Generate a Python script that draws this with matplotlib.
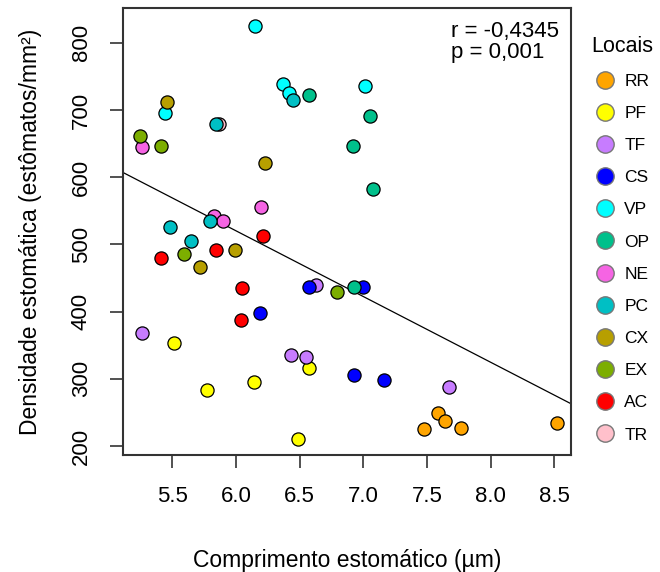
import matplotlib
matplotlib.use("Agg")
import matplotlib.pyplot as plt
from matplotlib.lines import Line2D
import numpy as np

plt.rcParams['font.family'] = ['Liberation Sans', 'DejaVu Sans']

locais = ["RR", "PF", "TF", "CS", "VP", "OP", "NE", "PC", "CX", "EX", "AC", "TR"]
cores = ["#FFA500", "#FFFF00", "#C77CFF", "#0000FF", "#00FFFF", "#00C08B",
         "#F564E3", "#00BFC4", "#B79F00", "#7CAE00", "#FF0000", "#FFC0CB"]

# comprimento (um) e densidade (estomatos/mm2) por local
comp = {
    "RR": [7.59, 7.64, 7.48, 7.77, 8.52],
    "PF": [5.51, 6.14, 5.77, 6.57, 6.49],
    "TF": [5.26, 6.43, 6.55, 6.63, 7.67],
    "CS": [6.57, 7.00, 6.19, 6.93, 7.16],
    "VP": [6.15, 6.37, 6.42, 7.01, 5.44],
    "OP": [6.57, 7.05, 6.92, 7.08, 6.93],
    "NE": [5.26, 6.20, 5.83, 5.90],
    "PC": [6.45, 5.84, 5.80, 5.48, 5.65],
    "CX": [5.46, 6.23, 5.99, 5.72],
    "EX": [5.25, 5.41, 5.59, 6.79],
    "AC": [6.21, 5.41, 5.84, 6.05, 6.04],
    "TR": [5.87],
}
dens = {
    "RR": [249, 237, 225, 227, 234],
    "PF": [354, 296, 283, 316, 211],
    "TF": [368, 335, 333, 439, 288],
    "CS": [437, 437, 398, 305, 298],
    "VP": [825, 738, 726, 736, 695],
    "OP": [723, 691, 647, 582, 437],
    "NE": [645, 556, 542, 535],
    "PC": [715, 679, 535, 526, 505],
    "CX": [712, 621, 491, 467],
    "EX": [662, 647, 485, 429],
    "AC": [513, 480, 491, 435, 387],
    "TR": [679],
}

fig = plt.figure(figsize=(6.6, 5.72), dpi=100)
ax = fig.add_axes([0.1864, 0.2045, 0.6788, 0.7815])

# TR desenhado primeiro (fica atras)
ordem = ["TR"] + locais[:-1]
for loc in ordem:
    c = cores[locais.index(loc)]
    ax.scatter(comp[loc], dens[loc], s=90, c=c, edgecolors="black", linewidths=0.9, zorder=3)

x_all = np.concatenate([comp[k] for k in locais])
y_all = np.concatenate([dens[k] for k in locais])
b, a = np.polyfit(x_all, y_all, 1)

ax.set_xlim(5.113, 8.632)
ax.set_ylim(186.6, 851.8)
xx = np.array(ax.get_xlim())
ax.plot(xx, a + b * xx, color="black", lw=0.9, zorder=2)

ax.set_xticks([5.5, 6.0, 6.5, 7.0, 7.5, 8.0, 8.5])
ax.set_xticklabels(["5.5", "6.0", "6.5", "7.0", "7.5", "8.0", "8.5"])
ax.set_yticks([200, 300, 400, 500, 600, 700, 800])
ax.tick_params(axis="y", labelrotation=90)
for lab in ax.get_yticklabels():
    lab.set_va("center")
ax.tick_params(labelsize=16, length=9.5, width=1.2, color="#333333", pad=13)
for sp in ax.spines.values():
    sp.set_color("#333333")
    sp.set_linewidth(1.5)

ax.set_xlabel("Comprimento estomático (µm)", fontsize=16.5, labelpad=30)
ax.set_ylabel("Densidade estomática (estômatos/mm²)", fontsize=16.5, labelpad=21)

ax.text(0.732, 0.972, "r = -0,4345\np = 0,001", transform=ax.transAxes,
        ha="left", va="top", fontsize=16, linespacing=1.0)

handles = [Line2D([0], [0], marker="o", ls="", markersize=12.5, markerfacecolor=c,
                  markeredgecolor="#777777", markeredgewidth=1.0) for c in cores]
fig.legend(handles, locais, title="Locais", loc="upper left",
           bbox_to_anchor=(0.885, 0.95), frameon=False, fontsize=12.5,
           title_fontsize=15.5, labelspacing=0.98, handletextpad=0.5,
           borderaxespad=0, handlelength=1.2)

fig.savefig("out.png", dpi=100)
